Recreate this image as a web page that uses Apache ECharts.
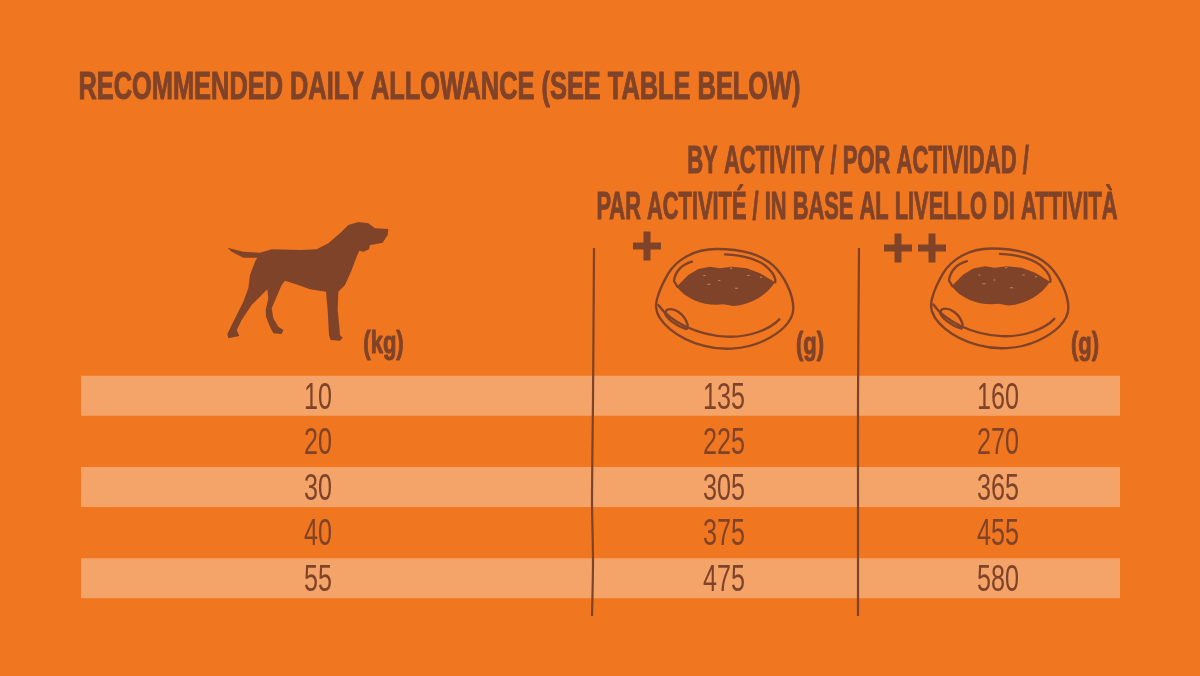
<!DOCTYPE html>
<html>
<head>
<meta charset="utf-8">
<title>Recommended daily allowance</title>
<script src="https://cdn.jsdelivr.net/npm/echarts@6/dist/echarts.min.js"></script>
<style>
  html, body { margin: 0; padding: 0; background: #f0761f; }
  #chart { width: 1200px; height: 676px; }
</style>
</head>
<body>
<div id="chart"></div>
<script>
// table values
const weightKg = ['10', '20', '30', '40', '55'];
const gramsActive = [135, 225, 305, 375, 475];
const gramsVeryActive = [160, 270, 365, 455, 580];
const shadedRows = ['10', '30', '55'];

const titleText = 'RECOMMENDED DAILY ALLOWANCE (SEE TABLE BELOW)';
const headerLines = ['BY ACTIVITY / POR ACTIVIDAD /', 'PAR ACTIVITÉ / IN BASE AL LIVELLO DI ATTIVITÀ'];

const INK = '#7f4329';
const STRIPE = '#f4a469';
const FONT = '"Liberation Sans Narrow", "Liberation Sans", sans-serif';
const TABLE_WIDTH = 1039;
const COLUMN_X = [237, 643, 917]; // centre of each text column, in table px

const dogPath = 'M82 113 L130 125 L180 128 L215 118 L300 120 L350 118 L385 100 L420 70 L445 45 L475 36 L505 40 L525 55 L565 57 L563 75 L548 98 L525 103 L510 105 L507 118 L490 125 L478 122 L470 140 L455 180 L435 225 L415 245 L413 300 L418 350 L420 375 L428 383 L420 392 L392 390 L387 375 L383 300 L378 245 L330 238 L295 225 L255 212 L245 225 L228 265 L215 295 L220 325 L235 350 L250 360 L245 372 L220 370 L210 350 L198 320 L197 300 L205 265 L202 238 L190 250 L155 285 L125 330 L110 360 L118 378 L85 385 L82 372 L100 335 L130 275 L145 235 L150 195 L165 155 L172 143 L130 143 L95 125 Z';

const bowlLines = [
  // outer body
  'M290 72 C220 72 170 105 145 145 C125 180 108 215 108 245 C110 290 170 340 250 362 C300 376 370 376 430 348 C480 325 520 290 520 250 C520 205 490 150 460 122 C420 85 360 72 290 72 Z',
  // front lip
  'M115 240 C150 290 230 330 320 335 C390 338 450 312 478 283',
  // inner rim, left and right
  'M216 110 C185 118 165 140 162 168 L172 185',
  'M315 88 C370 90 420 105 445 130 C460 145 468 160 466 172',
  // handle notch
  'M140 255 C165 245 195 270 203 300 L200 312 C170 305 140 280 135 265 Z'
];
const bowlFood = 'M170 185 L190 165 L205 150 L235 132 L270 125 L300 130 L335 125 L380 130 L420 145 L465 172 C440 210 395 240 340 243 L310 238 C260 245 200 225 170 185 Z';
const foodSpecks = 'M262 176 h9 v3 h-9 Z M345 188 h9 v3 h-9 Z M250 150 h6 v3 h-6 Z M382 150 h7 v3 h-7 Z M295 165 h6 v3 h-6 Z M330 128 h7 v3 h-7 Z M420 155 h6 v3 h-6 Z';
const plusPath = 'M-14 -3.5 H-3.5 V-14.5 H3.5 V-3.5 H14 V3.5 H3.5 V14.5 H-3.5 V3.5 H-14 Z';

// the graphic component has no plain path type, so register the drawings as shapes
echarts.graphic.registerShape('dogShape', echarts.graphic.extendPath(dogPath, {}));
echarts.graphic.registerShape('foodShape', echarts.graphic.extendPath(bowlFood, {}));
echarts.graphic.registerShape('speckShape', echarts.graphic.extendPath(foodSpecks, {}));
echarts.graphic.registerShape('plusShape', echarts.graphic.extendPath(plusPath, {}));
bowlLines.forEach((d, i) => echarts.graphic.registerShape('bowlLine' + i, echarts.graphic.extendPath(d, {})));

function textEl(text, x, y, size, scaleX, heavy) {
  return {
    type: 'text', x: x, y: y, scaleX: scaleX, z: 20, silent: true,
    style: {
      text: text, fill: INK, align: 'center', verticalAlign: 'middle',
      font: (heavy ? 'bold ' : '') + size + 'px ' + FONT,
      stroke: heavy ? INK : null, lineWidth: heavy ? 1 : 0
    }
  };
}

function bowl(dx, dy) {
  const s = 1 / 3;
  const lines = bowlLines.map((d, i) => ({
    type: 'bowlLine' + i, x: dx, y: dy, scaleX: s, scaleY: s, z: 20, silent: true,
    style: { fill: null, stroke: INK, lineWidth: 7, lineCap: 'round', lineJoin: 'round' }
  }));
  lines.push({
    type: 'foodShape', x: dx, y: dy, scaleX: s, scaleY: s, z: 20, silent: true,
    style: { fill: INK }
  });
  lines.push({
    type: 'speckShape', x: dx, y: dy, scaleX: s, scaleY: s, z: 21, silent: true,
    style: { fill: '#c98650' }
  });
  return lines;
}

function plus(cx, cy) {
  return { type: 'plusShape', x: cx, y: cy, z: 20, silent: true, style: { fill: INK } };
}

function divider(points) {
  return {
    type: 'polyline', z: 20, silent: true,
    shape: { points: points, smooth: 0.3 },
    style: { fill: null, stroke: INK, lineWidth: 2.2 }
  };
}

// one custom series per table column, squeezing the digits to the condensed look
function columnSeries(values, col) {
  return {
    type: 'custom', coordinateSystem: 'cartesian2d', z: 5, silent: true,
    data: values.map((v, i) => [COLUMN_X[col], i]),
    encode: { x: 0, y: 1 },
    renderItem: (params, api) => {
      const p = api.coord([api.value(0), params.dataIndex]);
      return textEl(String(values[params.dataIndex]), p[0], p[1] + 2.5, 37, 0.68, false);
    }
  };
}

const chart = echarts.init(document.getElementById('chart'), null, { renderer: 'canvas' });
chart.setOption({
  animation: false,
  backgroundColor: '#f0761f',
  grid: { left: 81, width: TABLE_WIDTH, top: 373, height: 228 },
  xAxis: { type: 'value', min: 0, max: TABLE_WIDTH, show: false },
  yAxis: { type: 'category', data: weightKg, inverse: true, show: false },
  series: [
    {
      type: 'bar', barWidth: 40, silent: true, z: 1,
      itemStyle: { color: STRIPE },
      data: weightKg.map(w => (shadedRows.includes(w) ? TABLE_WIDTH : null))
    },
    columnSeries(weightKg, 0),
    columnSeries(gramsActive, 1),
    columnSeries(gramsVeryActive, 2)
  ],
  graphic: [
    textEl(titleText, 439.5, 88.5, 38, 0.668, true),
    textEl(headerLines[0], 858, 162.5, 38, 0.58, true),
    textEl(headerLines[1], 857, 208.5, 38, 0.575, true),
    textEl('(kg)', 383.5, 344, 31, 0.71, true),
    textEl('(g)', 810, 345, 31, 0.71, true),
    textEl('(g)', 1085, 345, 31, 0.71, true),
    {
      type: 'dogShape', x: 200, y: 210, scaleX: 1 / 3, scaleY: 1 / 3, z: 20, silent: true,
      style: { fill: INK }
    },
    plus(647, 246),
    plus(898, 248),
    plus(932, 248),
    ...bowl(620, 225),
    ...bowl(895, 224.5),
    divider([[594, 248], [593, 400], [592, 500], [593, 560], [592, 616]]),
    divider([[859, 248], [858, 400], [858, 500], [858, 560], [858, 616]])
  ]
});
</script>
</body>
</html>
